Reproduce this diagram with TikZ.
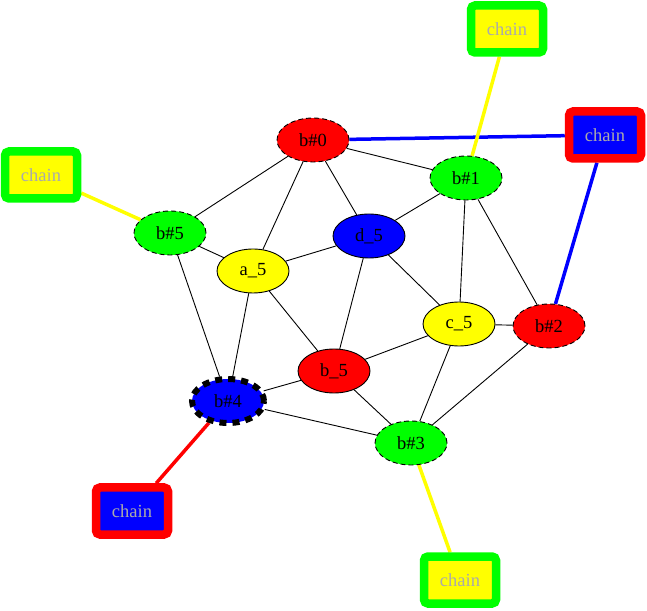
\documentclass[tikz,border=0pt]{standalone}
\usepackage{fontspec}
\setmainfont{Liberation Serif}
\usetikzlibrary{shapes.geometric,backgrounds}
\definecolor{gred}{RGB}{255,0,0}
\definecolor{ggreen}{RGB}{0,255,0}
\definecolor{gblue}{RGB}{0,0,255}
\definecolor{gyellow}{RGB}{255,255,0}
\definecolor{chaingray}{RGB}{170,170,170}
\begin{document}
\begin{tikzpicture}[x=1pt,y=1pt,
  ell/.style={ellipse, draw=black, line width=0.9pt, minimum width=72pt, minimum height=44pt, inner sep=0pt, font=\fontsize{18.5}{20}\selectfont},
  dsh/.style={dash pattern=on 5pt off 3pt},
  chainbox/.style={draw=#1, line width=8.5pt, rounded corners=4pt, minimum width=72pt, minimum height=47pt, inner sep=0pt, text=chaingray, font=\fontsize{18.5}{20}\selectfont},
  edge/.style={black, line width=0.9pt},
  cedge/.style={line width=3.5pt, draw=#1}
]
\useasboundingbox (0,0) rectangle (647,610);
\node[ell, dsh, fill=gred] (b0) at (313,470) {b\#0};
\node[ell, dsh, fill=ggreen] (b1) at (466,432) {b\#1};
\node[ell, dsh, fill=gred] (b2) at (549,284) {b\#2};
\node[ell, dsh, fill=ggreen] (b3) at (411,167) {b\#3};
\node[ell, fill=gblue, line width=6pt, dash pattern=on 7pt off 6pt] (b4) at (228,209) {b\#4};
\node[ell, dsh, fill=ggreen] (b5) at (170,377) {b\#5};
\node[ell, fill=gyellow] (a5) at (253,339) {a\_5};
\node[ell, fill=gblue] (d5) at (369,374) {d\_5};
\node[ell, fill=gyellow] (c5) at (459,286) {c\_5};
\node[ell, fill=gred] (bb5) at (334,239) {b\_5};
\node[chainbox=ggreen, fill=gyellow] (ct) at (507,581) {chain};
\node[chainbox=gred, fill=gblue] (cr) at (605,475) {chain};
\node[chainbox=ggreen, fill=gyellow] (cl) at (41,435) {chain};
\node[chainbox=gred, fill=gblue] (cbl) at (132,99) {chain};
\node[chainbox=ggreen, fill=gyellow] (cb) at (460,30) {chain};
\begin{scope}[on background layer]
\draw[edge] (b0) -- (b1);
\draw[edge] (b0) -- (d5);
\draw[edge] (b0) -- (a5);
\draw[edge] (b0) -- (b5);
\draw[edge] (b1) -- (d5);
\draw[edge] (b1) -- (c5);
\draw[edge] (b1) -- (b2);
\draw[edge] (b5) -- (a5);
\draw[edge] (b5) -- (b4);
\draw[edge] (a5) -- (d5);
\draw[edge] (a5) -- (bb5);
\draw[edge] (a5) -- (b4);
\draw[edge] (d5) -- (c5);
\draw[edge] (d5) -- (bb5);
\draw[edge] (c5) -- (b2);
\draw[edge] (c5) -- (bb5);
\draw[edge] (c5) -- (b3);
\draw[edge] (b2) -- (b3);
\draw[edge] (bb5) -- (b4);
\draw[edge] (bb5) -- (b3);
\draw[edge] (b4) -- (b3);
\draw[cedge=gblue] (b0) -- (cr);
\draw[cedge=gblue] (cr) -- (b2);
\draw[cedge=gyellow] (ct) -- (b1);
\draw[cedge=gyellow] (cl) -- (b5);
\draw[cedge=gred] (cbl) -- (b4);
\draw[cedge=gyellow] (b3) -- (cb);
\end{scope}
\end{tikzpicture}
\end{document}
